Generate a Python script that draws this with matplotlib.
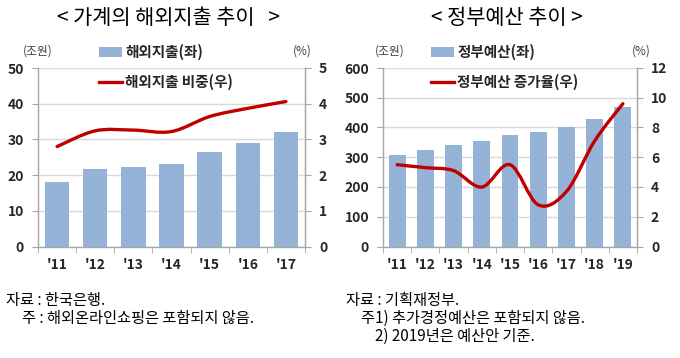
import matplotlib
matplotlib.use("Agg")
import matplotlib.pyplot as plt
from matplotlib.path import Path
from matplotlib.patches import PathPatch, Patch
from matplotlib.lines import Line2D

plt.rcParams['font.family'] = ['Noto Sans CJK KR', 'DejaVu Sans']

# ---- data: left chart ----
years_left = ["'11", "'12", "'13", "'14", "'15", "'16", "'17"]
spending = [18.2, 21.8, 22.4, 23.0, 26.4, 29.1, 32.0]          # 조원
spending_share = [2.80, 3.24, 3.26, 3.22, 3.64, 3.87, 4.06]   # %

# ---- data: right chart ----
years_right = ["'11", "'12", "'13", "'14", "'15", "'16", "'17", "'18", "'19"]
budget = [309.1, 325.4, 342.0, 355.8, 375.4, 386.4, 400.5, 428.8, 469.6]  # 조원
budget_growth = [5.5, 5.3, 5.1, 4.0, 5.5, 2.8, 3.7, 7.1, 9.6]             # %

left_yticks = [0, 10, 20, 30, 40, 50]
left_y2ticks = [0, 1, 2, 3, 4, 5]
right_yticks = [0, 100, 200, 300, 400, 500, 600]
right_y2ticks = [0, 2, 4, 6, 8, 10, 12]

BAR = '#95B3D7'
LINE = '#C00000'
GRID = '#D9D9D9'
SPINE = '#A6A6A6'
TXT = '#262626'

W, H = 680, 358
fig = plt.figure(figsize=(W / 100, H / 100), dpi=100)


def fx(px):
    return px / W


def fy(py):
    return 1 - py / H


def smooth_path(xs, ys):
    pts = list(zip(xs, ys))
    verts = [pts[0]]
    codes = [Path.MOVETO]
    n = len(pts)
    for i in range(n - 1):
        p0 = pts[i - 1] if i > 0 else pts[i]
        p1 = pts[i]
        p2 = pts[i + 1]
        p3 = pts[i + 2] if i + 2 < n else pts[i + 1]
        c1 = (p1[0] + (p2[0] - p0[0]) / 6, p1[1] + (p2[1] - p0[1]) / 6)
        c2 = (p2[0] - (p3[0] - p1[0]) / 6, p2[1] - (p3[1] - p1[1]) / 6)
        verts += [c1, c2, p2]
        codes += [Path.CURVE4] * 3
    return Path(verts, codes)


def make_chart(x0, x1, cats, bars, line, yt, y2t, barw, title, tcx,
               bar_label, line_label, leg_x, unit_l_x, unit_r_x):
    ax = fig.add_axes([fx(x0), fy(246.5), fx(x1 - x0), fy(68) - fy(246.5)])
    xs = list(range(len(cats)))
    ax.bar(xs, bars, width=barw, color=BAR, zorder=2)
    ax.set_xlim(-0.5, len(cats) - 0.5)
    ax.set_ylim(yt[0], yt[-1])
    ax.set_yticks(yt)
    ax.yaxis.grid(True, color=GRID, linewidth=1.0, zorder=0)
    ax.set_axisbelow(True)
    ax.set_xticks(xs)
    ax.set_xticklabels(cats, fontsize=10, fontweight='bold', color=TXT)
    ax.set_xticks([i - 0.5 for i in range(len(cats) + 1)], minor=True)
    ax.tick_params(axis='x', which='major', length=0, pad=8)
    ax.tick_params(axis='x', which='minor', length=4, color=SPINE, direction='out')
    ax.tick_params(axis='y', length=4, color=SPINE, pad=6, labelsize=10,
                   labelcolor=TXT)
    for lb in ax.get_yticklabels():
        lb.set_fontweight('bold')
    for s in ['top']:
        ax.spines[s].set_visible(False)
    for s in ['left', 'bottom', 'right']:
        ax.spines[s].set_color(SPINE)
        ax.spines[s].set_linewidth(1.0)

    ax2 = ax.twinx()
    ax2.set_ylim(y2t[0], y2t[-1])
    ax2.set_yticks(y2t)
    ax2.tick_params(axis='y', length=4, color=SPINE, pad=6, labelsize=10,
                    labelcolor=TXT)
    for lb in ax2.get_yticklabels():
        lb.set_fontweight('bold')
    for s in ['top', 'left', 'bottom']:
        ax2.spines[s].set_visible(False)
    ax2.spines['right'].set_color(SPINE)
    path = smooth_path(xs, line)
    ax2.add_patch(PathPatch(path, facecolor='none', edgecolor=LINE,
                            linewidth=2.4, capstyle='round', zorder=3))

    fig.text(fx(tcx), fy(18), title, ha='center', va='center', fontsize=15,
             color='#000000')
    fig.text(fx(unit_l_x), fy(51), '(조원)', ha='center', va='center',
             fontsize=8.5, color='#404040')
    fig.text(fx(unit_r_x), fy(51), '(%)', ha='center', va='center',
             fontsize=8.5, color='#404040')

    handles = [Patch(facecolor=BAR, edgecolor='none'),
               Line2D([0], [0], color=LINE, linewidth=2.4)]
    fig.legend(handles, [bar_label, line_label], loc='upper left',
               bbox_to_anchor=(fx(leg_x), fy(44)), frameon=False,
               borderpad=0, borderaxespad=0, handlelength=1.6,
               handleheight=0.6, handletextpad=0.2, labelspacing=0.9,
               prop={'size': 10.5, 'weight': 'bold'}, labelcolor=TXT)
    return ax


make_chart(38, 305, years_left, spending, spending_share, left_yticks,
           left_y2ticks, 0.64, '< 가계의 해외지출 추이   >', 168,
           '해외지출(좌)', '해외지출 비중(우)', 99, 38, 302)
make_chart(383, 637, years_right, budget, budget_growth, right_yticks,
           right_y2ticks, 0.6, '< 정부예산 추이 >', 507,
           '정부예산(좌)', '정부예산 증가율(우)', 431, 390, 641)

foot = dict(fontsize=11, color='#000000', va='center', ha='left')
fig.text(fx(6), fy(300), '자료 : 한국은행.', **foot)
fig.text(fx(22), fy(318), '주 : 해외온라인쇼핑은 포함되지 않음.', **foot)
fig.text(fx(346), fy(300), '자료 : 기획재정부.', **foot)
fig.text(fx(361), fy(318), '주1) 추가경정예산은 포함되지 않음.', **foot)
fig.text(fx(375), fy(336), '2) 2019년은 예산안 기준.', **foot)

fig.savefig('out.png', dpi=100)
